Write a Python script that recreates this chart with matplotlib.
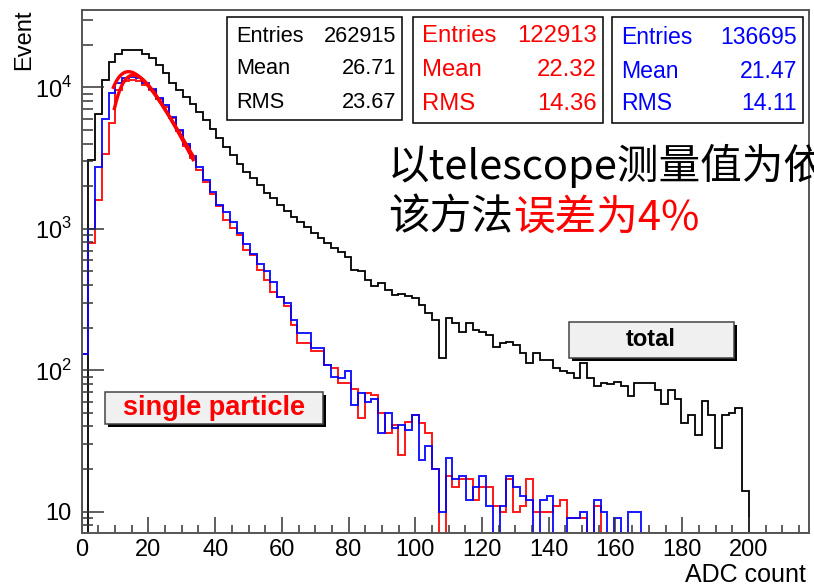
import numpy as np
import matplotlib
matplotlib.use("Agg")
import matplotlib.pyplot as plt
from matplotlib.patches import Rectangle
from matplotlib.ticker import MultipleLocator, FixedLocator, FixedFormatter, LogLocator, NullFormatter

plt.rcParams['font.family'] = ['Liberation Sans', 'DejaVu Sans']
plt.rcParams['mathtext.fontset'] = 'custom'
plt.rcParams['mathtext.rm'] = 'Liberation Sans'

W, H = 814, 587

# histogram binning (ADC count)
bin_width = 2.02
n_bins = 108

# bin contents, starting at bin 0
total_counts = [0, 3060, 6500, 11300, 15200, 17300, 18300, 18500, 18400, 17200,
                16000, 14400, 12600, 10800, 9600, 8600, 7600, 6700, 5900, 5100,
                4400, 3800, 3300, 2850, 2500, 2270, 2040, 1800, 1640, 1480,
                1330, 1220, 1120, 1035, 935, 860, 790, 730, 690, 630,
                512, 500, 435, 394, 412, 370, 341, 346, 335, 323,
                289, 255, 227, 122, 233, 215, 187, 215, 193, 187,
                178, 147, 155, 159, 151, 132, 112, 132, 118, 118,
                103, 98, 95, 88, 112, 88, 77, 81, 80, 82,
                77, 66, 81, 81, 81, 73, 58, 73, 63, 42,
                48, 35, 61, 48, 28, 48, 50, 54, 14]

red_counts = [130, 790, 1600, 3400, 5600, 9500, 11000, 11300, 11000, 10300,
              9500, 8200, 7300, 6100, 4900, 3850, 3150, 2600, 2150, 1750,
              1450, 1150, 1010, 900, 710, 650, 510, 435, 360, 330,
              285, 209, 155, 155, 136, 136, 109, 103, 81, 81,
              74, 46, 69, 67, 50, 36, 41, 25, 43, 48,
              42, 36, 20, 0, 18, 15, 17, 17, 12, 15,
              15, 11, 10, 17, 10, 11, 17, 10, 10, 10,
              11, 12, 9, 9, 9, 0, 11]

blue_counts = [130, 990, 2750, 6000, 9100, 10700, 11600, 11900, 11600, 10700,
               9800, 8350, 7500, 6200, 5000, 3950, 3250, 2750, 2200, 1820,
               1480, 1320, 1120, 930, 780, 660, 560, 500, 420, 330,
               300, 227, 182, 182, 143, 143, 109, 90, 88, 99,
               57, 69, 60, 63, 36, 50, 39, 41, 38, 48,
               23, 29, 20, 10, 24, 17, 18, 12, 15, 18,
               11, 0, 11, 18, 15, 13, 12, 0, 12, 13,
               0, 0, 9, 9, 10, 0, 12, 10, 0, 9,
               0, 10, 10]

# landau fits to the single particle peak: (mpv, sigma, peak height, x from, x to)
fit_params = [(14.0, 5.2, 12900, 9.5, 33.4),
              (15.5, 4.8, 12200, 9.8, 33.4)]

stat_labels = ['Entries', 'Mean', 'RMS']
stat_total = ['262915', '26.71', '23.67']
stat_red = ['122913', '22.32', '14.36']
stat_blue = ['136695', '21.47', '14.11']

ymin, ymax = 7.03, 35200
xmax = 218.0

fig = plt.figure(figsize=(W / 100, H / 100), dpi=100)
ax = fig.add_axes([81.7 / W, 1 - 533.3 / H, (809 - 81.7) / W, (533.3 - 10) / H])

edges = np.arange(n_bins + 1) * bin_width


def padded(vals):
    # empty bins sit on the lower edge of the log axis
    v = np.zeros(n_bins)
    v[:len(vals)] = vals
    return np.maximum(v, ymin)


ax.stairs(padded(total_counts), edges, color='black', lw=1.3)
ax.stairs(padded(red_counts), edges, color='#ff0000', lw=1.4, alpha=0.9)
ax.stairs(padded(blue_counts), edges, color='#0000ff', lw=1.4, alpha=0.9)

for mpv, sig, peak, x0, x1 in fit_params:
    xs = np.linspace(x0, x1, 200)
    lam = (xs - mpv) / sig
    ax.plot(xs, peak * np.exp(-0.5 * (lam + np.exp(-lam) - 1)), color='#ff0000', lw=2.4)

ax.set_yscale('log')
ax.set_xlim(0, xmax)
ax.set_ylim(ymin, ymax)

ax.xaxis.set_major_locator(MultipleLocator(20))
ax.xaxis.set_minor_locator(MultipleLocator(5))
ax.yaxis.set_major_locator(FixedLocator([10, 100, 1000, 10000]))
ax.yaxis.set_major_formatter(FixedFormatter(['10', r'$10^2$', r'$10^3$', r'$10^4$']))
ax.yaxis.set_minor_locator(LogLocator(base=10, subs=np.arange(2, 10)))
ax.yaxis.set_minor_formatter(NullFormatter())

ax.tick_params(axis='x', which='major', direction='in', length=11.5, width=1.1,
               color='#333333', labelsize=17, pad=4, top=False)
ax.tick_params(axis='x', which='minor', direction='in', length=5.8, width=1.1,
               color='#333333', top=False)
ax.tick_params(axis='y', which='major', direction='in', length=16, width=1.1,
               color='#333333', labelsize=17, pad=7, right=False)
ax.tick_params(axis='y', which='minor', direction='in', length=8, width=1.1,
               color='#333333', right=False)
for sp in ax.spines.values():
    sp.set_color('#555555')
    sp.set_linewidth(1.4)

fig.text(24 / W, 1 - 10 / H, 'Event', rotation=90, ha='center', va='top', fontsize=17)
fig.text(806 / W, 1 - 575 / H, 'ADC count', ha='right', va='center', fontsize=18)


def fig_box(x0, y0, x1, y1, face, edge='black', lw=1.1, shadow=0, z=5):
    if shadow:
        fig.add_artist(Rectangle(((x0 + shadow) / W, 1 - (y1 + shadow) / H),
                                 (x1 - x0) / W, (y1 - y0) / H, transform=fig.transFigure,
                                 facecolor='black', edgecolor='none', zorder=z))
    fig.add_artist(Rectangle((x0 / W, 1 - y1 / H), (x1 - x0) / W, (y1 - y0) / H,
                             transform=fig.transFigure, facecolor=face,
                             edgecolor=edge, lw=lw, zorder=z + 1))


# statistics boxes
stat_boxes = [((227, 17, 402, 120), stat_total, 'black', 15.7, [36, 69, 102]),
              ((413, 17, 603, 123), stat_red, '#ff0000', 17.2, [36, 70, 104]),
              ((612, 17, 803, 123), stat_blue, '#0000ff', 16.6, [37, 72, 104])]
for (x0, y0, x1, y1), vals, col, fs, rows in stat_boxes:
    fig_box(x0, y0, x1, y1, 'white')
    for lab, val, ry in zip(stat_labels, vals, rows):
        fig.text((x0 + 9) / W, 1 - ry / H, lab, color=col, fontsize=fs,
                 ha='left', va='center', zorder=10)
        fig.text((x1 - 6) / W, 1 - ry / H, val, color=col, fontsize=fs,
                 ha='right', va='center', zorder=10)

# labelled boxes for the two samples
fig_box(105, 392, 323, 424, '#f0f0f0', edge='#444444', shadow=3)
fig.text(214 / W, 1 - 408 / H, 'single particle', color='#ff0000', fontsize=19.5,
         fontweight='bold', ha='center', va='center', zorder=10)
fig_box(569, 322, 734, 358, '#f0f0f0', edge='#444444', shadow=3)
fig.text(651 / W, 1 - 340 / H, 'total', color='black', fontsize=17,
         fontweight='bold', ha='center', va='center', zorder=10)

cjk = ['Noto Sans CJK SC', 'DejaVu Sans']
fig.text(388 / W, 1 - 166 / H, '以telescope测量值为依', fontsize=30,
         family=cjk, ha='left', va='center', zorder=10)
t1 = fig.text(388 / W, 1 - 218 / H, '该方法', fontsize=30, family=cjk,
              ha='left', va='center', zorder=10)
ax.annotate('误差为4%', xy=(1, 0), xycoords=t1, fontsize=30, family=cjk,
            color='#ff0000', ha='left', va='bottom', zorder=10,
            annotation_clip=False)

fig.savefig('out.png', dpi=100)
